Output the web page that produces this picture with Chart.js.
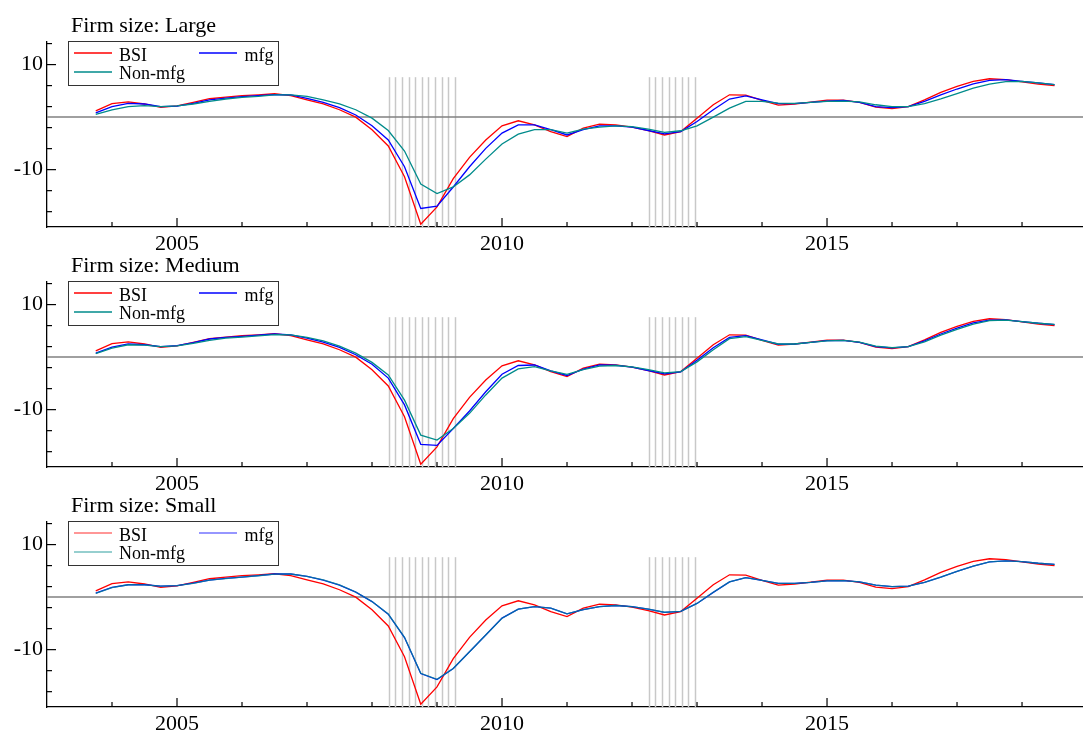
<!DOCTYPE html>
<html>
<head>
<meta charset="utf-8">
<title>BSI by firm size</title>
<script src="https://cdn.jsdelivr.net/npm/chart.js@4/dist/chart.umd.min.js"></script>
<style>
  html, body { margin: 0; padding: 0; background: #fff; }
  body { width: 1083px; height: 733px; position: relative; overflow: hidden; }
  .panel { position: absolute; left: 0; width: 1083px; }
  .panel canvas { display: block; }
</style>
</head>
<body>
<div class="panel" style="top:0px"><canvas id="panelLarge" width="1083" height="260"></canvas></div>
<div class="panel" style="top:240px"><canvas id="panelMedium" width="1083" height="260"></canvas></div>
<div class="panel" style="top:480px"><canvas id="panelSmall" width="1083" height="253"></canvas></div>
<script>
// Quarterly sample: 2003Q4 .. 2018Q3
const FIRST_YEAR = 2003, FIRST_QUARTER = 4, N_QUARTERS = 60;
const quarters = Array.from({ length: N_QUARTERS }, (_, i) => {
  const q = FIRST_QUARTER - 1 + i;
  return FIRST_YEAR + Math.floor(q / 4) + (q % 4) / 4;
});

// Business sentiment index, all industries (same series in every panel)
const bsi = [1.2, 2.55, 2.9, 2.5, 1.85, 2.15, 2.8, 3.5, 3.8, 4.1, 4.25, 4.45, 4.1, 3.3, 2.5,
  1.4, 0, -2.4, -5.5, -11.35, -20.4, -17.1, -11.7, -7.65, -4.35, -1.66, -0.7, -1.47, -2.75, -3.7,
  -2.1, -1.35, -1.47, -1.9, -2.55, -3.4, -2.75, -0.2, 2.35, 4.25, 4.2, 3.2, 2.3, 2.5, 2.85,
  3.25, 3.25, 2.8, 1.9, 1.6, 2.0, 3.3, 4.7, 5.85, 6.8, 7.3, 7.15, 6.7, 6.3, 6.0];

// Large firms
const mfgLarge = [0.8, 2.0, 2.6, 2.5, 2.0, 2.1, 2.6, 3.3, 3.6, 3.9, 4.1, 4.3, 4.25, 3.55, 2.8,
  1.8, 0.4, -1.65, -4.35, -9.45, -17.4, -16.95, -13.3, -9.45, -5.95, -3.05, -1.47, -1.47, -2.4, -3.4,
  -2.4, -1.65, -1.65, -1.9, -2.55, -3.2, -2.75, -0.85, 1.4, 3.45, 4.05, 3.3, 2.55, 2.55, 2.8,
  3.05, 3.2, 2.8, 2.0, 1.8, 2.0, 3.0, 4.25, 5.35, 6.35, 7.0, 7.15, 6.8, 6.5, 6.2];
const nonMfgLarge = [0.5, 1.4, 2.0, 2.2, 2.0, 2.15, 2.5, 3.0, 3.45, 3.75, 3.95, 4.25, 4.25, 3.95, 3.3,
  2.5, 1.4, -0.2, -2.55, -6.45, -12.75, -14.55, -13.3, -11.0, -8.0, -5.1, -3.25, -2.4, -2.4, -3.05,
  -2.3, -1.9, -1.65, -1.8, -2.3, -2.9, -2.6, -1.65, 0, 1.7, 3.0, 3.0, 2.65, 2.6, 2.8,
  3.0, 3.05, 2.9, 2.35, 2.0, 2.0, 2.55, 3.45, 4.45, 5.5, 6.3, 6.75, 6.8, 6.5, 6.2];

// Medium firms
const mfgMedium = [0.75, 1.9, 2.5, 2.35, 2.0, 2.2, 2.75, 3.45, 3.75, 3.95, 4.2, 4.4, 4.25, 3.6, 2.85,
  1.85, 0.45, -1.35, -4.0, -9.1, -16.6, -16.8, -13.6, -10.25, -6.6, -3.25, -1.6, -1.5, -2.6, -3.5,
  -2.3, -1.5, -1.55, -1.9, -2.55, -3.2, -2.8, -0.6, 1.8, 3.75, 4.1, 3.3, 2.45, 2.5, 2.8,
  3.15, 3.2, 2.8, 2.0, 1.75, 2.0, 3.1, 4.4, 5.5, 6.5, 7.05, 7.1, 6.75, 6.45, 6.2];
const nonMfgMedium = [0.65, 1.7, 2.35, 2.3, 2.0, 2.15, 2.6, 3.2, 3.6, 3.8, 4.05, 4.3, 4.25, 3.75, 3.1,
  2.1, 0.75, -1.0, -3.4, -8.2, -14.85, -15.8, -13.6, -10.7, -7.2, -4.0, -2.25, -1.8, -2.6, -3.3,
  -2.4, -1.7, -1.6, -1.85, -2.4, -3.0, -2.75, -0.9, 1.4, 3.5, 3.9, 3.2, 2.5, 2.5, 2.8,
  3.1, 3.2, 2.85, 2.1, 1.8, 2.0, 2.9, 4.2, 5.3, 6.3, 6.95, 7.05, 6.75, 6.45, 6.25];

// Small firms
const mfgSmall = [0.75, 1.85, 2.35, 2.35, 2.1, 2.2, 2.65, 3.25, 3.55, 3.8, 4.1, 4.4, 4.4, 3.95, 3.25,
  2.3, 0.95, -0.85, -3.25, -7.7, -14.55, -15.7, -13.6, -10.4, -7.2, -4.0, -2.3, -1.8, -2.1, -3.2,
  -2.4, -1.8, -1.6, -1.8, -2.3, -2.9, -2.7, -1.2, 0.9, 2.9, 3.7, 3.2, 2.6, 2.6, 2.8,
  3.1, 3.15, 2.9, 2.3, 2.0, 2.1, 2.8, 3.8, 4.9, 5.9, 6.7, 6.9, 6.75, 6.45, 6.25];
const nonMfgSmall = [0.72, 1.82, 2.35, 2.33, 2.1, 2.2, 2.62, 3.22, 3.52, 3.8, 4.07, 4.37, 4.4, 3.95, 3.28,
  2.33, 0.98, -0.82, -3.22, -7.65, -14.5, -15.65, -13.58, -10.4, -7.2, -4.02, -2.3, -1.8, -2.1, -3.18,
  -2.4, -1.8, -1.6, -1.8, -2.3, -2.88, -2.7, -1.2, 0.92, 2.9, 3.7, 3.2, 2.6, 2.6, 2.8,
  3.1, 3.15, 2.9, 2.3, 2.0, 2.1, 2.8, 3.8, 4.9, 5.9, 6.7, 6.9, 6.75, 6.45, 6.25];

// Recession markers (decimal years) and their height
const recessionA = [2008.26, 2008.36, 2008.46, 2008.565, 2008.66, 2008.765, 2008.86, 2008.965, 2009.07, 2009.165, 2009.27];
const recessionB = [2012.26, 2012.36, 2012.46, 2012.565, 2012.66, 2012.765, 2012.86, 2012.965];
const RECESSION_TOP = 7.6;

// Axis ticks
const xLabelYears = [2005, 2010, 2015];
const xMinorYears = [2004, 2006, 2007, 2008, 2009, 2011, 2012, 2013, 2014, 2016, 2017, 2018];
const yLabels = [-10, 10];
const yMinor = [14, 6, 2, -2, -6, -14, -18];

const X_MIN = 2003, X_MAX = 2018.938;
const Y_MIN = -20.92, Y_MAX = 14.3;

const SERIF = '"Liberation Serif", "Times New Roman", serif';
const RED = '#ff0000', BLUE = '#0000ff', TEAL = '#008b8b';

const panelDecor = {
  id: 'panelDecor',
  beforeDatasetsDraw(chart) {
    const { ctx, chartArea: a, scales: { x, y } } = chart;
    ctx.save();
    ctx.beginPath();
    ctx.rect(a.left, a.top, a.right - a.left, a.bottom - a.top);
    ctx.clip();
    ctx.strokeStyle = '#c8c8c8';
    ctx.lineWidth = 1.5;
    const yTop = y.getPixelForValue(RECESSION_TOP);
    for (const t of recessionA.concat(recessionB)) {
      const px = Math.round(x.getPixelForValue(t)) + 0.5;
      ctx.beginPath(); ctx.moveTo(px, yTop); ctx.lineTo(px, a.bottom); ctx.stroke();
    }
    ctx.strokeStyle = '#808080';
    ctx.lineWidth = 1.5;
    const y0 = y.getPixelForValue(0);
    ctx.beginPath(); ctx.moveTo(a.left, y0); ctx.lineTo(a.right, y0); ctx.stroke();
    ctx.restore();
  },
  afterDraw(chart, args, opts) {
    const { ctx, chartArea: a, scales: { x, y } } = chart;
    ctx.save();
    // inward tick marks
    ctx.strokeStyle = '#000';
    ctx.lineWidth = 1.2;
    const tick = (x1, y1, x2, y2) => { ctx.beginPath(); ctx.moveTo(x1, y1); ctx.lineTo(x2, y2); ctx.stroke(); };
    for (const v of yLabels) { const py = y.getPixelForValue(v); tick(a.left, py, a.left + 9, py); }
    for (const v of yMinor) { const py = y.getPixelForValue(v); tick(a.left, py, a.left + 5, py); }
    for (const v of xLabelYears) { const px = x.getPixelForValue(v); tick(px, a.bottom, px, a.bottom - 9); }
    for (const v of xMinorYears) { const px = x.getPixelForValue(v); tick(px, a.bottom, px, a.bottom - 5); }

    // panel title
    ctx.fillStyle = '#000';
    ctx.font = '22px ' + SERIF;
    ctx.textBaseline = 'alphabetic';
    ctx.textAlign = 'left';
    ctx.fillText(opts.title, 71, 32);

    // legend box
    ctx.fillStyle = '#fff';
    ctx.fillRect(68.5, 41.5, 210, 44);
    ctx.strokeStyle = '#333';
    ctx.lineWidth = 1;
    ctx.strokeRect(68.5, 41.5, 210, 44);
    const ds = chart.data.datasets;
    const slots = [
      { lx: 74, ly: 53, tx: 119, ty: 60.5, align: 'left' },
      { lx: 199, ly: 53, tx: 273.5, ty: 60.5, align: 'right' },
      { lx: 74, ly: 72, tx: 119, ty: 78.5, align: 'left' }
    ];
    ctx.font = '18px ' + SERIF;
    ds.forEach((d, i) => {
      const s = slots[i];
      ctx.globalAlpha = opts.legendAlpha;
      ctx.strokeStyle = d.legendColor || d.borderColor;
      ctx.lineWidth = 1.4;
      tick(s.lx, s.ly, s.lx + 38, s.ly);
      ctx.globalAlpha = 1;
      ctx.fillStyle = '#000';
      ctx.textAlign = s.align;
      ctx.fillText(d.label, s.tx, s.ty);
    });
    ctx.restore();
  }
};

function makePanel(canvasId, title, mfg, nonMfg, opts) {
  const canvas = document.getElementById(canvasId);
  const H = canvas.height;
  const toPoints = vals => quarters.map((q, i) => ({ x: q, y: vals[i] }));
  // higher "order" is painted first, so BSI sits underneath and Non-mfg on top
  const line = (label, vals, color, order, legendColor) => ({
    label, data: toPoints(vals), borderColor: color, legendColor, order,
    borderWidth: 1.3, pointRadius: 0, fill: false, tension: 0
  });
  return new Chart(canvas, {
    type: 'line',
    data: {
      datasets: [
        line('BSI', bsi, RED, 3),
        line('mfg', mfg, BLUE, 2),
        line('Non-mfg', nonMfg, opts.tealLine || TEAL, 1, TEAL)
      ]
    },
    options: {
      responsive: false,
      animation: false,
      events: [],
      layout: { padding: { top: 42, left: 0, right: 0, bottom: 0 } },
      plugins: {
        legend: { display: false },
        tooltip: { enabled: false },
        panelDecor: { title, legendAlpha: opts.legendAlpha || 1 }
      },
      scales: {
        x: {
          type: 'linear', min: X_MIN, max: X_MAX,
          grid: { display: false, drawTicks: false },
          border: { display: true, color: '#000', width: 1.3 },
          afterFit: s => { s.height = H - 227; },
          afterBuildTicks: s => { s.ticks = xLabelYears.map(v => ({ value: v })); },
          ticks: {
            font: { family: SERIF, size: 22 }, color: '#000', padding: 4,
            maxRotation: 0, autoSkip: false, callback: v => String(v)
          }
        },
        y: {
          min: Y_MIN, max: Y_MAX,
          grid: { display: false, drawTicks: false },
          border: { display: true, color: '#000', width: 1.3 },
          afterFit: s => { s.width = 47; },
          afterBuildTicks: s => { s.ticks = yLabels.map(v => ({ value: v })); },
          ticks: {
            font: { family: SERIF, size: 22 }, color: '#000', padding: 4,
            autoSkip: false, callback: v => String(v)
          }
        }
      }
    },
    plugins: [panelDecor]
  });
}

makePanel('panelLarge', 'Firm size: Large', mfgLarge, nonMfgLarge, {});
makePanel('panelMedium', 'Firm size: Medium', mfgMedium, nonMfgMedium, {});
makePanel('panelSmall', 'Firm size: Small', mfgSmall, nonMfgSmall, { tealLine: 'rgba(0,139,139,0.75)', legendAlpha: 0.55 });
</script>
</body>
</html>
